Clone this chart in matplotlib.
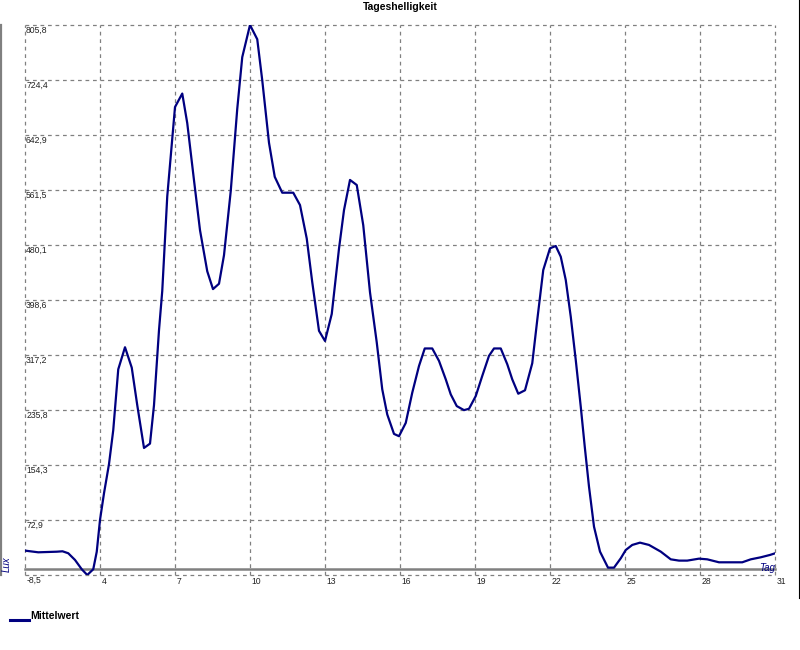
import matplotlib
matplotlib.use("Agg")
import matplotlib.pyplot as plt
from matplotlib.lines import Line2D
import numpy as np

# Tagesmittelwerte der Helligkeit
days = [1.0, 1.53, 2.27, 2.5, 2.73, 3.0, 3.27, 3.49, 3.73, 3.87, 4.0, 4.16, 4.36,
        4.53, 4.73, 5.0, 5.27, 5.49, 5.76, 6.0, 6.16, 6.36, 6.49, 6.69, 7.0, 7.29,
        7.49, 7.76, 8.0, 8.29, 8.52, 8.76, 8.96, 9.23, 9.49, 9.69, 10.0, 10.29,
        10.49, 10.76, 10.99, 11.29, 11.73, 12.0, 12.27, 12.49, 12.76, 13.0, 13.27,
        13.56, 13.76, 14.0, 14.27, 14.53, 14.8, 15.07, 15.29, 15.49, 15.76, 15.96,
        16.23, 16.49, 16.76, 16.99, 17.29, 17.56, 17.83, 18.03, 18.27, 18.56, 18.76,
        19.03, 19.29, 19.56, 19.76, 20.03, 20.29, 20.49, 20.73, 21.0, 21.29, 21.49,
        21.73, 22.0, 22.23, 22.43, 22.63, 22.83, 23.03, 23.23, 23.39, 23.56, 23.76,
        24.0, 24.32, 24.56, 24.83, 25.03, 25.29, 25.6, 25.96, 26.43, 26.83, 27.16,
        27.49, 27.96, 28.29, 28.76, 29.36, 29.69, 30.03, 30.43, 30.8, 31.0]
lux = [27.6, 25.1, 26.0, 26.6, 23.7, 13.8, 0.0, -8.5, 0.0, 26.0, 73.0, 112.5, 155.7,
       206.0, 296.0, 328.7, 298.5, 243.0, 179.6, 186.0, 243.0, 354.0, 412.0, 552.0,
       684.3, 704.3, 660.5, 575.9, 502.0, 441.2, 414.8, 422.7, 465.0, 560.0, 681.6,
       758.2, 805.8, 784.7, 723.9, 631.4, 581.0, 557.5, 557.5, 539.2, 489.6, 425.0,
       353.0, 338.0, 378.0, 474.7, 531.7, 576.4, 568.9, 509.4, 410.0, 335.8, 266.4,
       229.2, 200.4, 197.0, 216.7, 261.4, 301.0, 326.9, 326.9, 308.5, 281.2, 258.9,
       241.6, 235.6, 237.6, 256.4, 286.2, 316.0, 326.9, 326.9, 303.6, 281.2, 259.9,
       265.0, 305.0, 369.0, 443.0, 475.2, 478.6, 462.8, 428.3, 374.0, 309.8, 240.8,
       181.5, 122.3, 63.1, 26.1, 2.4, 2.4, 16.2, 28.5, 36.0, 39.4, 36.0, 26.1, 14.7,
       12.8, 12.8, 15.7, 14.7, 10.3, 10.3, 10.3, 14.7, 17.7, 21.2, 23.6]

x_ticks = [1, 4, 7, 10, 13, 16, 19, 22, 25, 28, 31]
x_tick_labels = ["", "4", "7", "10", "13", "16", "19", "22", "25", "28", "31"]
y_tick_labels = ["-8,5", "72,9", "154,3", "235,8", "317,2", "398,6",
                 "480,1", "561,5", "642,9", "724,4", "805,8"]

W, H = 800, 650
fig = plt.figure(figsize=(W / 100, H / 100), dpi=100)
ax = fig.add_axes([25 / W, (H - 575) / H, 750 / W, 550 / H])

y_min, y_max = min(lux), max(lux)
y_ticks = np.linspace(y_min, y_max, len(y_tick_labels))

ax.set_xlim(x_ticks[0], x_ticks[-1])
ax.set_ylim(y_min, y_max)
for s in ax.spines.values():
    s.set_visible(False)
ax.set_xticks([])
ax.set_yticks([])

grid_kw = dict(color="#808080", lw=0.9, ls=(0, (3, 3)), clip_on=False, zorder=1)
for xv in x_ticks:
    ax.axvline(xv, **grid_kw)
for yv in y_ticks:
    ax.axhline(yv, **grid_kw)

# Nulllinie
ax.axhline(0, color="#808080", lw=1.8, zorder=2, clip_on=False)

ax.plot(days, lux, color="#000080", lw=1.6, zorder=3)

# Achsenbeschriftungen im Diagramm
for yv, lab in zip(y_ticks, y_tick_labels):
    ax.annotate(lab, xy=(x_ticks[0], yv), xytext=(0.8, -0.8), textcoords="offset points",
                ha="left", va="top", fontsize=6.2, family="Liberation Sans",
                color="#222222", annotation_clip=False)
for xv, lab in zip(x_ticks, x_tick_labels):
    if lab:
        ax.annotate(lab, xy=(xv, y_min), xytext=(1.2, -1.5), textcoords="offset points",
                    ha="left", va="top", fontsize=6.2, family="Liberation Sans",
                    color="#222222", annotation_clip=False)

fig.text(400 / W, 1 - 7 / H, "Tageshelligkeit", ha="center", va="center",
         fontsize=7.5, fontweight="bold", family="Liberation Sans")
fig.text(6.5 / W, 1 - 564 / H, "Lux", rotation=90, ha="center", va="center",
         fontsize=7, style="italic", color="#000080", family="Liberation Sans")
fig.text(767 / W, 1 - 568 / H, "Tag", ha="center", va="center",
         fontsize=7, style="italic", color="#000080", family="Liberation Sans")

# Rahmenlinien
fig.add_artist(Line2D([1 / W, 1 / W], [1 - 25 / H, 1 - 575 / H], color="#808080", lw=1.6))
fig.add_artist(Line2D([798.5 / W, 798.5 / W], [1.0, 1 - 598 / H], color="black", lw=0.8))

# Legende
fig.add_artist(Line2D([10 / W, 29 / W], [1 - 620 / H, 1 - 620 / H], color="#000080", lw=2.2))
fig.text(30 / W, 1 - 616 / H, "Mittelwert", ha="left", va="center",
         fontsize=7.5, fontweight="bold", family="Liberation Sans")

fig.savefig("out.png", dpi=100)
